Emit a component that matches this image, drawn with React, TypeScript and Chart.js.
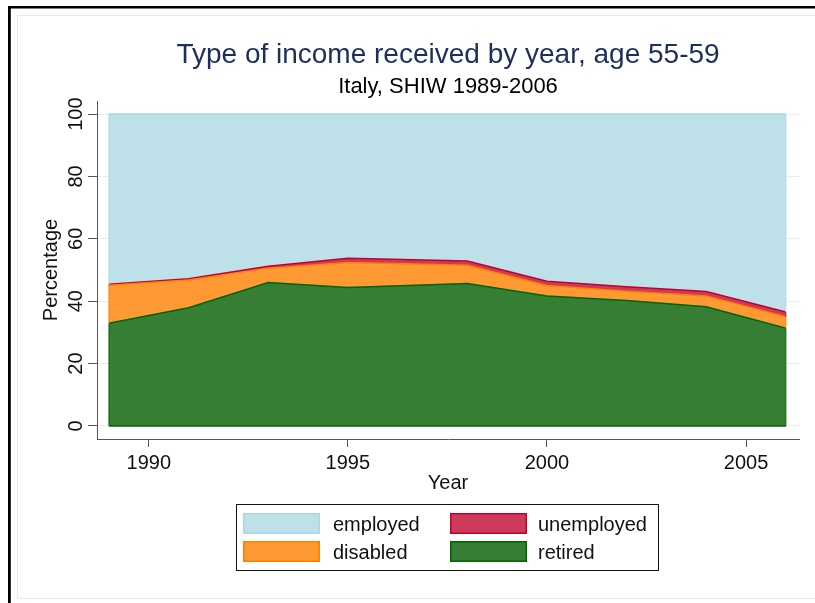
import React, { useEffect, useRef } from "react";
import { Chart, registerables } from "chart.js";

Chart.register(...registerables);

const years = [1989, 1991, 1993, 1995, 1998, 2000, 2002, 2004, 2006];
const retired = [32.9, 37.9, 46.0, 44.4, 45.7, 41.7, 40.2, 38.2, 31.3];
const disabled = [12.2, 8.9, 4.6, 8.0, 5.8, 3.3, 3.0, 3.5, 3.7];
const unemployed = [0.3, 0.4, 0.6, 1.4, 1.4, 1.4, 1.4, 1.4, 1.5];
const employed = [54.6, 52.8, 48.8, 46.2, 47.1, 53.6, 55.4, 56.9, 63.5];

const xTicks = [1990, 1995, 2000, 2005];
const yTicks = [0, 20, 40, 60, 80, 100];
const legendOrder = ["employed", "unemployed", "disabled", "retired"];

const TITLE = "Type of income received by year, age 55-59";
const SUBTITLE = "Italy, SHIW 1989-2006";
const X_TITLE = "Year";
const Y_TITLE = "Percentage";

const FONT = "'Liberation Sans', Arial, Helvetica, sans-serif";

const toPoints = (vals: number[]) => years.map((x, i) => ({ x, y: vals[i] }));

const decorPlugin = {
  id: "decor",
  beforeDraw(chart: any) {
    const ctx = chart.ctx;
    ctx.save();
    ctx.fillStyle = "#ffffff";
    ctx.fillRect(0, 0, chart.width, chart.height);
    // outer black frame (left and top)
    ctx.fillStyle = "#000000";
    ctx.fillRect(8, 6, chart.width - 8, 2.5);
    ctx.fillRect(8, 6, 2.8, chart.height - 6);
    // light graph region outline (top, left, bottom)
    ctx.strokeStyle = "#e2ecef";
    ctx.lineWidth = 1;
    ctx.beginPath();
    ctx.moveTo(chart.width, 15.5);
    ctx.lineTo(17.5, 15.5);
    ctx.lineTo(17.5, 598.5);
    ctx.lineTo(chart.width, 598.5);
    ctx.stroke();
    ctx.restore();
  },
  afterDatasetsDraw(chart: any) {
    // area outlines: vertical end edges and baseline, as in the original
    const ctx = chart.ctx;
    const xs = chart.scales.x;
    const ys = chart.scales.y;
    const metas = chart.getSortedVisibleDatasetMetas();
    ctx.save();
    ctx.lineWidth = 1;
    const x0 = xs.getPixelForValue(years[0]);
    const x1 = xs.getPixelForValue(years[years.length - 1]);
    metas.forEach((meta: any, idx: number) => {
      const ds = chart.data.datasets[meta.index];
      const pts = meta.data;
      const first = pts[0];
      const last = pts[pts.length - 1];
      const prev = idx > 0 ? metas[idx - 1].data : null;
      const b0 = prev ? prev[0].y : ys.getPixelForValue(0);
      const b1 = prev ? prev[prev.length - 1].y : ys.getPixelForValue(0);
      ctx.strokeStyle = ds.borderColor;
      ctx.beginPath();
      ctx.moveTo(first.x, first.y);
      ctx.lineTo(first.x, b0);
      ctx.moveTo(last.x, last.y);
      ctx.lineTo(last.x, b1);
      ctx.stroke();
    });
    const base = ys.getPixelForValue(0);
    ctx.strokeStyle = "#006400";
    ctx.lineWidth = 1.5;
    ctx.beginPath();
    ctx.moveTo(x0, base);
    ctx.lineTo(x1, base);
    ctx.stroke();
    ctx.restore();
  },
  afterDraw(chart: any) {
    const ctx = chart.ctx;
    const area = chart.chartArea;
    const xs = chart.scales.x;
    const ys = chart.scales.y;
    const cx = (area.left + area.right) / 2;
    ctx.save();
    // titles
    ctx.textAlign = "center";
    ctx.textBaseline = "alphabetic";
    ctx.fillStyle = "#1e2e5c";
    ctx.font = `28px ${FONT}`;
    ctx.fillText(TITLE, cx, 62.5);
    ctx.fillStyle = "#000000";
    ctx.font = `22px ${FONT}`;
    ctx.fillText(SUBTITLE, cx, 93);

    // x tick labels
    ctx.font = `20px ${FONT}`;
    ctx.fillStyle = "#111111";
    xs.ticks.forEach((t: any) => {
      const px = xs.getPixelForValue(t.value);
      ctx.fillText(String(t.value), px, 469);
    });
    // x title
    ctx.fillText(X_TITLE, cx, 488.5);

    // y tick labels (rotated)
    ys.ticks.forEach((t: any) => {
      const py = ys.getPixelForValue(t.value);
      ctx.save();
      ctx.translate(81.5, py);
      ctx.rotate(-Math.PI / 2);
      ctx.textAlign = "center";
      ctx.fillText(String(t.value), 0, 0);
      ctx.restore();
    });
    // y title
    ctx.save();
    ctx.translate(56.5, (area.top + area.bottom) / 2);
    ctx.rotate(-Math.PI / 2);
    ctx.textAlign = "center";
    ctx.fillText(Y_TITLE, 0, 0);
    ctx.restore();

    // legend
    const lx = 236, ly = 504, lw = 422, lh = 66;
    ctx.fillStyle = "#ffffff";
    ctx.fillRect(lx, ly, lw, lh);
    ctx.strokeStyle = "#111111";
    ctx.lineWidth = 1;
    ctx.strokeRect(lx + 0.5, ly + 0.5, lw, lh);
    const colX = [243, 450];
    const textX = [333, 538];
    const rowY = [513, 541];
    const baseY = [531, 559];
    ctx.textAlign = "left";
    ctx.font = `20px ${FONT}`;
    legendOrder.forEach((name, i) => {
      const ds = chart.data.datasets.find((d: any) => d.label === name);
      if (!ds) return;
      const c = i % 2;
      const r = Math.floor(i / 2);
      ctx.fillStyle = ds.backgroundColor;
      ctx.fillRect(colX[c], rowY[r], 77, 21);
      ctx.strokeStyle = ds.borderColor;
      ctx.lineWidth = 1.5;
      ctx.strokeRect(colX[c] + 0.75, rowY[r] + 0.75, 75.5, 19.5);
      ctx.fillStyle = "#111111";
      ctx.fillText(name, textX[c], baseY[r]);
    });
    ctx.restore();
  },
};

export default function App() {
  const canvasRef = useRef<HTMLCanvasElement | null>(null);

  useEffect(() => {
    document.body.style.margin = "0";
    document.body.style.overflow = "hidden";
    const canvas = canvasRef.current;
    if (!canvas) return;
    const common = { pointRadius: 0, tension: 0, borderWidth: 1.5 };
    const chart = new Chart(canvas, {
      type: "line",
      data: {
        datasets: [
          { label: "retired", data: toPoints(retired), fill: "origin", backgroundColor: "#367e33", borderColor: "#006400", ...common },
          { label: "disabled", data: toPoints(disabled), fill: "-1", backgroundColor: "#fe9934", borderColor: "#ff7f00", ...common },
          { label: "unemployed", data: toPoints(unemployed), fill: "-1", backgroundColor: "#cd3a5a", borderColor: "#c0002f", ...common },
          { label: "employed", data: toPoints(employed), fill: "-1", backgroundColor: "#bee0e9", borderColor: "#aed6e2", ...common },
        ],
      },
      options: {
        responsive: false,
        animation: false,
        devicePixelRatio: 1,
        layout: { padding: { top: 101, right: 16, left: 0, bottom: 0 } },
        plugins: { legend: { display: false }, tooltip: { enabled: false }, title: { display: false } },
        scales: {
          x: {
            type: "linear",
            min: 1988.7,
            max: 2006.33,
            afterBuildTicks: (s: any) => {
              s.ticks = xTicks.map((v) => ({ value: v }));
            },
            afterFit: (s: any) => {
              s.height = 164;
            },
            ticks: { display: false },
            grid: { drawOnChartArea: false, drawTicks: true, tickLength: 8, tickColor: "#555555", tickWidth: 1 },
            border: { display: true, color: "#555555", width: 1 },
          },
          y: {
            type: "linear",
            stacked: true,
            min: -4.2,
            max: 104.2,
            afterBuildTicks: (s: any) => {
              s.ticks = yTicks.map((v) => ({ value: v }));
            },
            afterFit: (s: any) => {
              s.width = 97;
            },
            ticks: { display: false },
            grid: { color: "#e6eef1", lineWidth: 1, drawTicks: true, tickLength: 9, tickColor: "#555555", tickWidth: 1 },
            border: { display: true, color: "#555555", width: 1 },
          },
        },
      } as any,
      plugins: [decorPlugin],
    });
    return () => chart.destroy();
  }, []);

  return (
    <div style={{ position: "absolute", left: 0, top: 0, width: 815, height: 603 }}>
      <canvas ref={canvasRef} width={815} height={603} />
    </div>
  );
}
